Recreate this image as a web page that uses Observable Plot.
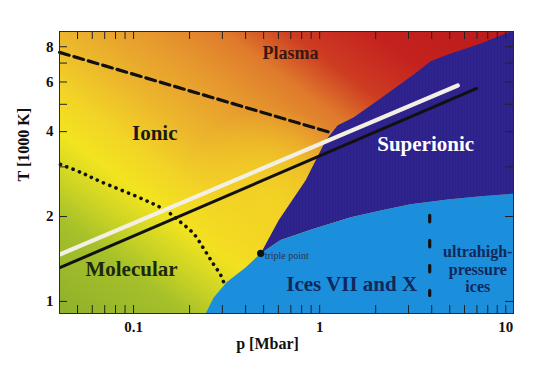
<!DOCTYPE html>
<html><head><meta charset="utf-8">
<script src="https://cdn.jsdelivr.net/npm/d3@7"></script>
<script src="https://cdn.jsdelivr.net/npm/@observablehq/plot@0.6"></script>
<style>body{margin:0;background:#fff}#chart{width:540px;height:367px}</style>
</head><body><div id="chart"></div>
<script>
// ---- data (p in Mbar, T in 1000 K) ----
const pDomain = [0.04, 11];
const TDomain = [0.906, 9.06];
const xTickLabels = [0.1, 1, 10];
const xTicksAll = [0.05,0.06,0.07,0.08,0.09,0.1,0.2,0.3,0.4,0.5,0.6,0.7,0.8,0.9,1,2,3,4,5,6,7,8,9,10];
const yTickLabels = [1, 2, 4, 6, 8];
const yTicksAll = [1, 2, 3, 4, 5, 6, 7, 8];

const triplePoint = [0.482, 1.48];
// superionic upper/left boundary (from triple point up to the top-right)
const superionicBoundary = [[0.482,1.48],[0.602,1.94],[0.841,2.69],[1.077,3.72],[1.25,4.21],[1.52,4.49],[2.13,5.25],[3.20,6.38],[3.95,7.10],[4.88,7.51],[7.34,8.22],[11,9.14]];
// ices VII/X upper boundary (triple point to the right)
const iceTopBoundary = [[0.482,1.48],[0.617,1.65],[0.929,1.81],[1.47,1.99],[2.13,2.10],[3.08,2.21],[4.88,2.30],[7.34,2.36],[11,2.41]];
// ices left boundary (bottom up to triple point)
const iceLeftBoundary = [[0.244,0.906],[0.269,1.03],[0.316,1.17],[0.40,1.32],[0.482,1.48]];
// plasma / ionic (dashed)
const plasmaLine = [[0.04,7.64],[1.146,3.97]];
// molecular / ionic (dotted)
const molecularLine = [[0.0405,3.06],[0.0519,2.87],[0.0665,2.66],[0.113,2.30],[0.149,2.10],[0.179,1.91],[0.210,1.74],[0.238,1.54],[0.266,1.37],[0.294,1.24],[0.305,1.17]];
// ultrahigh-pressure boundary (vertical dashed)
const ultraLine = [[3.9,2.02],[3.9,1.05]];
// isentropes
const whiteLine = [[0.0405,1.47],[5.52,5.83]];
const blackLine = [[0.0405,1.32],[6.98,5.69]];

const phaseNames = ["Plasma","Ionic","Superionic","Molecular","Ices VII and X","ultrahigh-\npressure\nices"];
const phaseP = [0.698, 0.130, 3.71, 0.0975, 1.486, 7.07];
const phaseT = [7.58, 3.94, 3.60, 1.30, 1.149, 1.30];

// ---- build ----
const W = 540, H = 367, mL = 59, mR = 27, mT = 31, mB = 54;
const serif = "'Liberation Serif','Times New Roman',serif";
const px = d => d[0], ty = d => d[1];

const superPoly = superionicBoundary.concat(iceTopBoundary.slice().reverse());
const icePoly = iceLeftBoundary.concat(iceTopBoundary.slice(1), [[pDomain[1], TDomain[0]]]);

const labelStyle = {
  "Plasma": {fill:"#3a1812", fontSize:18},
  "Ionic": {fill:"#1a1a14", fontSize:21},
  "Superionic": {fill:"#ffffff", fontSize:21},
  "Molecular": {fill:"#1c280c", fontSize:21},
  "Ices VII and X": {fill:"#13285a", fontSize:21},
  "ultrahigh-\npressure\nices": {fill:"#13285a", fontSize:16, lineHeight:1.1}
};
const labelMarks = phaseNames.map((n, i) => Plot.text([i], {
  x: j => phaseP[j], y: j => phaseT[j], text: j => phaseNames[j],
  fontWeight: "bold", ...labelStyle[n]
}));

const pw = W - mL - mR, ph = H - mT - mB;
const chart = Plot.plot({
  width: W, height: H,
  marginLeft: mL, marginRight: mR, marginTop: mT, marginBottom: mB,
  style: {fontFamily: serif, background: "#fff", color: "#111"},
  x: {type: "log", domain: pDomain},
  y: {type: "log", domain: TDomain},
  marks: [
    Plot.frame({fill: "url(#bgGrad)", stroke: "none"}),
    Plot.frame({fill: "url(#glow)", stroke: "none"}),
    Plot.line(superPoly, {x: px, y: ty, fill: "url(#stripes)", stroke: "none", clip: true}),
    Plot.line(icePoly, {x: px, y: ty, fill: "#1b8fdc", stroke: "none", clip: true}),
    Plot.line(plasmaLine, {x: px, y: ty, stroke: "#111", strokeWidth: 3.2, strokeDasharray: "10,5"}),
    Plot.line(molecularLine, {x: px, y: ty, stroke: "#111", strokeWidth: 3.6, strokeDasharray: "0.1,6.6", strokeLinecap: "round", curve: "catmull-rom"}),
    Plot.line(ultraLine, {x: px, y: ty, stroke: "#111", strokeWidth: 3.2, strokeDasharray: "6.5,18.5"}),
    Plot.line(whiteLine, {x: px, y: ty, stroke: "#f3efe4", strokeWidth: 4.2}),
    Plot.line(blackLine, {x: px, y: ty, stroke: "#111", strokeWidth: 3}),
    Plot.dot([triplePoint], {x: px, y: ty, r: 3.6, fill: "#111", stroke: "none"}),
    Plot.text([triplePoint], {x: px, y: ty, text: () => "triple point", dx: 4, dy: 2, textAnchor: "start", fontSize: 10, fill: "#2c3350"}),
    ...labelMarks,
    // ticks (inward)
    Plot.tickX(xTicksAll, {x: d => d, insetTop: ph - 8, stroke: "#222"}),
    Plot.tickX(xTicksAll, {x: d => d, insetBottom: ph - 8, stroke: "#222"}),
    Plot.tickY(yTicksAll, {y: d => d, insetRight: pw - 8, stroke: "#222"}),
    Plot.tickY(yTicksAll, {y: d => d, insetLeft: pw - 8, stroke: "#222"}),
    Plot.axisX(xTickLabels, {anchor: "bottom", tickSize: 0, tickPadding: 8, label: null, tickFormat: d => String(d), fontSize: 15, fontWeight: "bold"}),
    Plot.axisY(yTickLabels, {anchor: "left", tickSize: 0, tickPadding: 6, label: null, tickFormat: d => String(d), fontSize: 15, fontWeight: "bold"}),
    Plot.text(["p [Mbar]"], {frameAnchor: "bottom", dx: -19, dy: 35, text: d => d, fontSize: 16, fontWeight: "bold"}),
    Plot.text(["T [1000 K]"], {frameAnchor: "left", dx: -36, dy: 9, rotate: -90, text: d => d, fontSize: 16, fontWeight: "bold"}),
    Plot.frame({stroke: "#2a2a2a", strokeWidth: 1})
  ]
});

// background colour field + stripe pattern (styles)
const svg = d3.select(chart);
const defs = svg.insert("defs", ":first-child");
const dir = [0.6, -0.8], len = 498;
const A = [mL, H - mB];
const B = [A[0] + dir[0] * len, A[1] + dir[1] * len];
const g = defs.append("linearGradient").attr("id", "bgGrad").attr("gradientUnits", "userSpaceOnUse")
  .attr("x1", A[0]).attr("y1", A[1]).attr("x2", B[0]).attr("y2", B[1]);
[[0, "#8fb02a"], [0.15, "#a5c02a"], [0.22, "#ccd424"], [0.29, "#f2e41f"], [0.36, "#f2d426"],
 [0.45, "#ecb62c"], [0.56, "#e6982e"], [0.65, "#df7a2c"], [0.73, "#cd3c22"], [0.83, "#c4221e"], [1, "#bc1a1c"]]
  .forEach(([o, c]) => g.append("stop").attr("offset", o).attr("stop-color", c));
const glow = defs.append("radialGradient").attr("id", "glow").attr("gradientUnits", "userSpaceOnUse")
  .attr("cx", mL + 212).attr("cy", H - mB - 110).attr("r", 95);
[[0, 0.85], [0.5, 0.55], [1, 0]].forEach(([o, a]) =>
  glow.append("stop").attr("offset", o).attr("stop-color", "#f4d822").attr("stop-opacity", a));
const pat = defs.append("pattern").attr("id", "stripes").attr("patternUnits", "userSpaceOnUse")
  .attr("width", 3).attr("height", 20);
pat.append("rect").attr("width", 3).attr("height", 20).attr("fill", "#2c2189");
pat.append("rect").attr("width", 1).attr("height", 20).attr("fill", "#3a2c9e").attr("opacity", 0.45);

document.getElementById("chart").appendChild(chart);
</script>
</body></html>
